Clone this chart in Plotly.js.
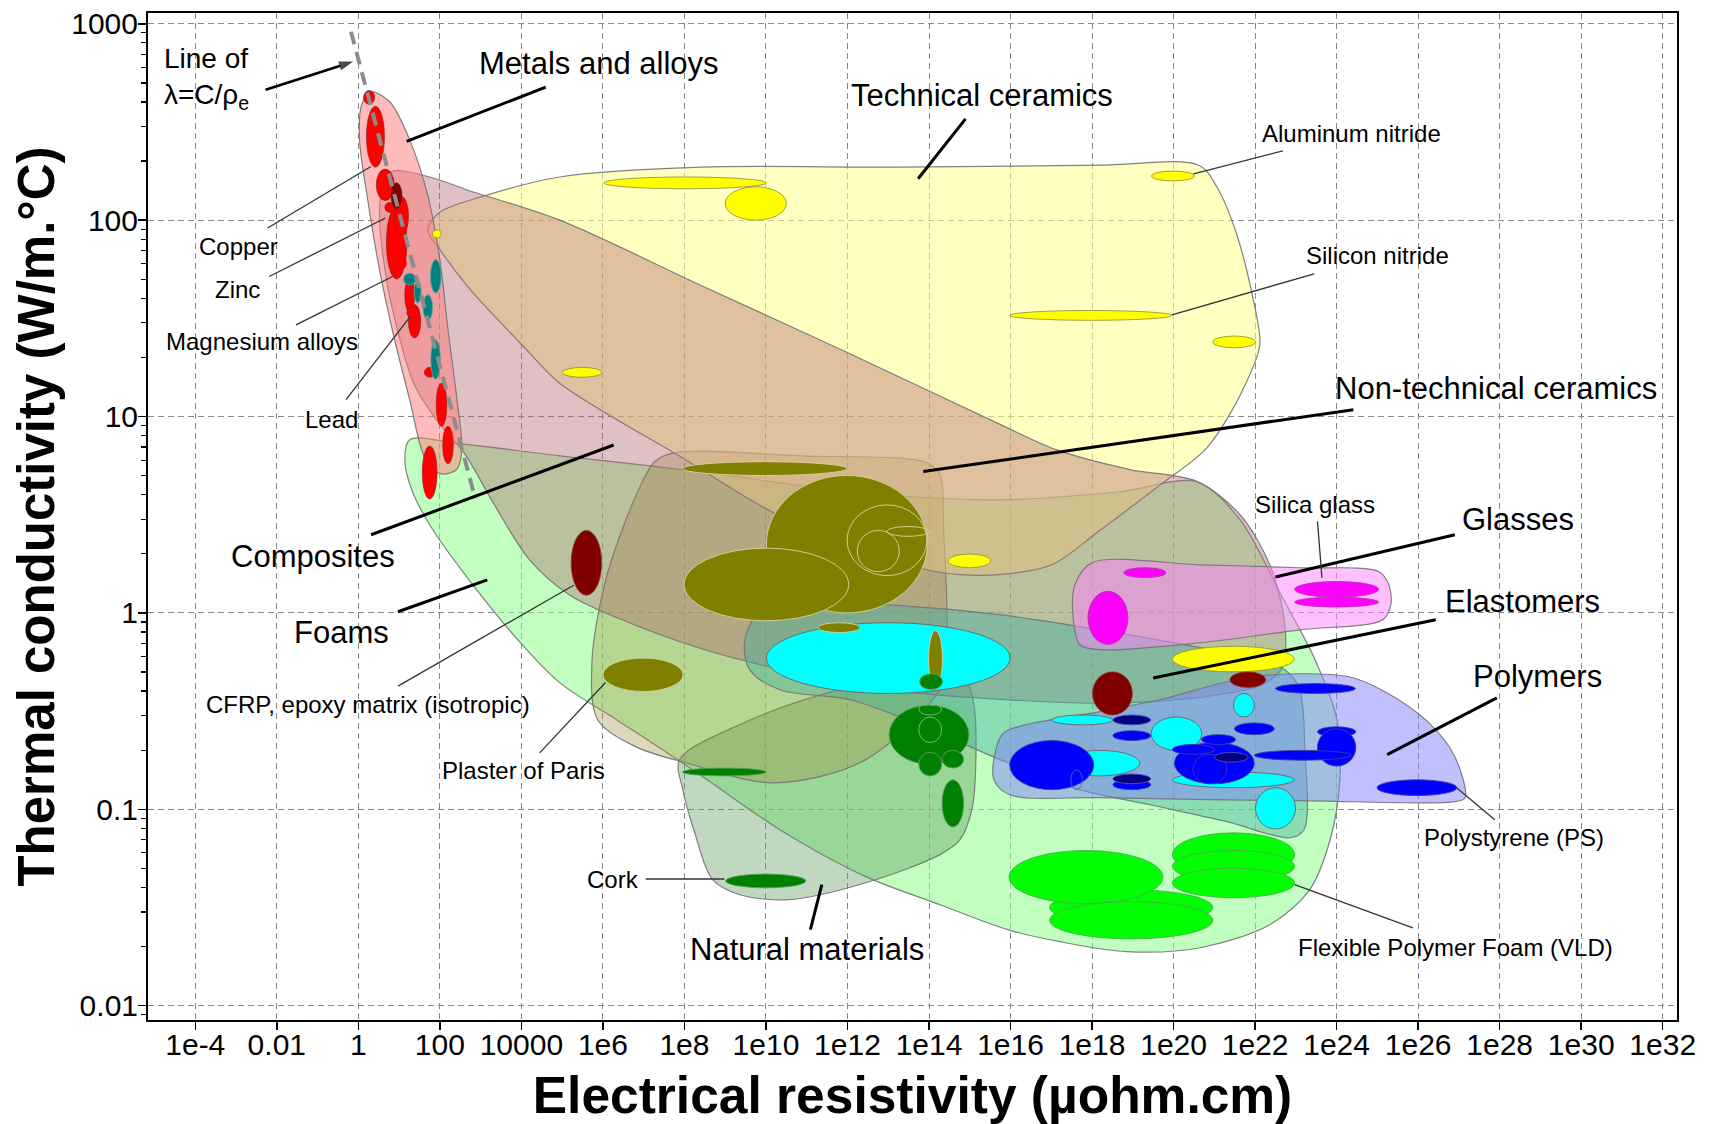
<!DOCTYPE html>
<html><head><meta charset="utf-8">
<script src="https://cdn.plot.ly/plotly-3.0.1.min.js"></script>
<style>html,body{margin:0;padding:0;background:#fff}#chart{width:1711px;height:1124px}</style>
</head><body><div id="chart"></div>
<script>
// ---------- Axis ticks ----------
const xTickVals = [1e-4,1e-2,1,1e2,1e4,1e6,1e8,1e10,1e12,1e14,1e16,1e18,1e20,1e22,1e24,1e26,1e28,1e30,1e32];
const xTickText = ['1e-4','0.01','1','100','10000','1e6','1e8','1e10','1e12','1e14','1e16','1e18','1e20','1e22','1e24','1e26','1e28','1e30','1e32'];
const yTickVals = [0.01,0.1,1,10,100,1000];
const yTickText = ['0.01','0.1','1','10','100','1000'];

// ---------- Family envelopes (log10 resistivity µohm.cm, log10 conductivity W/m.°C) ----------
const foamsLogRho = [1.26,2.49,4.94,8.38,12.06,15.74,18.68,20.57,21.63,22.66,23.47,24.01,24.08,23.84,23.34,22.36,20.65,18.85,17.21,15.93,14.27,12.45,10.34,8.38,6.41,4.94,3.91,2.58,1.75,1.31,1.14];
const foamsLogK   = [0.882,0.862,0.800,0.719,0.617,0.576,0.617,0.668,0.475,0.082,-0.238,-0.544,-0.849,-1.155,-1.409,-1.588,-1.705,-1.725,-1.674,-1.613,-1.486,-1.343,-1.104,-0.824,-0.554,-0.355,-0.136,0.205,0.449,0.627,0.780];
const naturalLogRho = [7.88,9.46,11.52,13.21,14.34,14.90,15.10,15.15,15.05,14.76,14.27,12.45,10.58,9.36,8.69,8.23,7.96];
const naturalLogK   = [-0.747,-0.559,-0.406,-0.33,-0.316,-0.34,-0.467,-0.747,-1.002,-1.155,-1.231,-1.374,-1.460,-1.435,-1.358,-1.104,-0.900];
const ntcLogRho = [7.76,10.83,13.95,14.27,14.36,14.44,14.39,12.45,10.19,8.03,6.80,5.87,5.73,6.07,6.80,7.27];
const ntcLogK   = [0.816,0.800,0.765,0.704,0.424,-0.019,-0.340,-0.747,-0.865,-0.763,-0.681,-0.544,-0.254,0.169,0.592,0.770];
const ceramicsLogRho = [1.70,2.00,3.03,4.94,8.38,13.28,18.19,20.62,21.06,21.53,21.92,22.12,22.02,21.43,20.77,19.66,18.19,17.01,15.74,14.76,13.95,12.06,10.19,8.03,4.94,4.13,2.73,2.00];
const ceramicsLogK   = [1.95,2.04,2.12,2.22,2.27,2.27,2.28,2.28,2.17,1.94,1.63,1.38,1.29,1.03,0.83,0.65,0.42,0.245,0.195,0.195,0.22,0.35,0.51,0.78,1.17,1.34,1.65,1.85];
const compLogRho = [0.84,1.75,2.73,4.94,8.38,12.06,15.74,17.14,18.93,20.57,21.63,22.36,22.73,22.66,22.12,20.65,18.19,15.74,13.28,10.83,8.38,6.41,5.19,4.20,3.34,2.61,2.00,1.38,0.96,0.65,0.52,0.62];
const compLogK   = [2.25,2.22,2.15,2.00,1.67,1.32,0.96,0.83,0.73,0.67,0.50,0.245,-0.06,-0.28,-0.37,-0.43,-0.46,-0.44,-0.40,-0.31,-0.18,-0.03,0.09,0.27,0.55,0.81,0.96,1.16,1.44,1.75,2.05,2.19];
const metalsLogRho = [0.30,0.77,1.26,1.70,2.00,2.20,2.42,2.54,2.41,2.00,1.63,1.26,0.89,0.52,0.23,0.03,0.08];
const metalsLogK   = [2.654,2.603,2.409,2.129,1.798,1.442,1.086,0.831,0.729,0.709,0.790,1.086,1.391,1.747,2.104,2.409,2.588];
const elastLogRho = [9.48,9.85,10.83,13.28,15.74,18.19,20.65,22.53,23.05,23.22,23.20,22.85,21.31,19.42,17.70,15.74,13.77,12.06,10.34,9.60];
const elastLogK   = [-0.136,0.006,0.052,0.037,-0.009,-0.086,-0.177,-0.264,-0.366,-0.697,-1.104,-1.145,-1.063,-0.977,-0.900,-0.747,-0.569,-0.442,-0.391,-0.289];
const polyLogRho = [15.84,18.19,19.66,21.92,24.30,25.23,26.26,26.90,27.15,26.90,23.10,18.19,15.98,15.59,15.64];
const polyLogK   = [-0.610,-0.503,-0.442,-0.325,-0.325,-0.406,-0.559,-0.732,-0.941,-0.961,-0.956,-0.941,-0.926,-0.849,-0.697];
const glassLogRho = [18.00,20.65,23.10,25.04,25.28,25.33,25.13,23.10,20.65,18.19,17.70,17.53,17.58];
const glassLogK   = [0.256,0.245,0.230,0.210,0.144,0.042,-0.035,-0.086,-0.152,-0.187,-0.162,-0.009,0.144];

// ---------- Material bubbles: [logRhoMin, logRhoMax, logKMin, logKMax] ----------
const ceramicBubbles = [[6.02,10.01,2.16,2.22],[9.00,10.50,2.00,2.17],[5.00,5.98,1.20,1.25],[15.98,19.96,1.49,1.54],[19.46,20.51,2.20,2.25],[20.96,22.01,1.35,1.41],[14.47,15.51,0.23,0.30],[19.97,22.96,-0.30,-0.17],[1.82,2.03,1.91,1.95]];
const elastomerBubbles = [[10.01,15.99,-0.41,-0.05],[17.01,18.51,-0.57,-0.52],[17.21,19.17,-0.83,-0.70],[21.47,21.98,-0.53,-0.41],[19.45,20.69,-0.70,-0.53],[19.97,22.96,-0.89,-0.81],[22.01,22.99,-1.10,-0.89]];
const ntcBubbles = [[7.95,11.99,0.70,0.77],[10.01,13.96,0.00,0.70],[7.99,12.03,-0.04,0.33],[11.28,12.31,-0.10,-0.05],[6.00,7.97,-0.40,-0.23],[13.99,14.33,-0.38,-0.09]];
const ntcOutlines = [[11.99,13.95,0.19,0.55],[12.24,13.27,0.21,0.42],[12.97,14.00,0.39,0.44]];
const naturalBubbles = [[13.77,14.33,-0.39,-0.31],[13.02,14.98,-0.77,-0.47],[13.75,14.31,-0.83,-0.71],[14.32,14.85,-0.79,-0.70],[14.32,14.85,-1.09,-0.85],[7.95,10.01,-0.83,-0.79],[9.01,10.98,-1.40,-1.33]];
const naturalOutlines = [[13.75,14.31,-0.52,-0.46],[13.75,14.31,-0.66,-0.53]];
const metalRedBubbles = [[0.13,0.40,2.59,2.66],[0.20,0.64,2.27,2.58],[0.44,0.88,2.10,2.26],[0.69,1.19,1.70,2.07],[0.89,1.23,1.92,2.12],[0.65,0.89,2.04,2.09],[0.88,1.18,1.75,1.81],[1.14,1.38,1.53,1.71],[1.23,1.53,1.40,1.57],[1.19,1.48,1.50,1.56],[1.62,1.88,1.20,1.25],[1.91,2.17,0.95,1.17],[2.07,2.33,0.76,0.95],[1.57,1.93,0.58,0.85]];
const metalDarkBubbles = [[0.80,1.07,2.06,2.19]];
const metalTealBubbles = [[1.11,1.41,1.67,1.73],[1.77,2.03,1.63,1.80],[1.59,1.82,1.49,1.62],[1.37,1.54,1.58,1.69],[1.78,2.01,1.19,1.39]];
const compositeBubbles = [[5.22,5.97,0.09,0.42],[18.01,18.99,-0.52,-0.30],[21.38,22.26,-0.38,-0.30]];
const polymerBubbles = [[15.98,18.04,-0.90,-0.65],[20.02,21.98,-0.87,-0.66],[18.51,19.44,-0.65,-0.60],[18.51,19.44,-0.90,-0.85],[22.50,24.46,-0.41,-0.36],[21.49,22.47,-0.62,-0.56],[20.68,21.52,-0.67,-0.62],[19.97,21.00,-0.72,-0.67],[20.47,21.31,-0.87,-0.72],[23.53,24.47,-0.63,-0.58],[23.53,24.47,-0.78,-0.59],[21.98,24.36,-0.75,-0.70],[24.99,26.95,-0.93,-0.85]];
const polymerOutlines = [[17.48,17.76,-0.90,-0.80]];
const polymerNavyBubbles = [[18.51,19.44,-0.57,-0.52],[18.51,19.44,-0.87,-0.82],[21.00,21.83,-0.76,-0.71]];
const glassBubbles = [[18.78,19.81,0.18,0.23],[17.90,18.88,-0.16,0.11],[22.97,25.03,0.08,0.16],[22.97,25.03,0.03,0.08]];
const foamBubbles = [[16.96,20.96,-1.59,-1.41],[16.96,20.96,-1.66,-1.47],[15.96,19.74,-1.48,-1.21],[19.97,22.97,-1.34,-1.12],[19.97,22.97,-1.37,-1.21],[19.97,22.97,-1.45,-1.30]];

// ---------- Wiedemann-Franz guide line (λ = C/ρe) ----------
const wfLogRho = [-0.18, 2.87];
const wfLogK = [2.96, 0.58];
const wfArrowLogRho = [-2.275, -0.125]; // tail -> head
const wfArrowLogK = [2.664, 2.808];

// ---------- Labels ----------
const labelText = ['Metals and alloys','Technical ceramics','Non-technical ceramics','Composites','Foams','Glasses','Elastomers','Polymers','Natural materials',
  'Aluminum nitride','Silicon nitride','Copper','Zinc','Magnesium alloys','Lead','CFRP, epoxy matrix (isotropic)','Plaster of Paris','Silica glass','Polystyrene (PS)','Flexible Polymer Foam (VLD)','Cork'];
const labelLogRho = [5.897,15.296,27.90,-1.107,-0.410,28.45,28.55,28.92,10.996, 24.36,25.00,-2.930,-2.962,-2.361,-0.655,0.228,4.052,23.48,28.34,26.92,6.255];
const labelLogK   = [2.800,2.633,1.145,0.288,-0.102,0.475,0.059,-0.323,-1.715, 2.443,1.819,1.866,1.646,1.382,0.984,-0.467,-0.800,0.551,-1.146,-1.706,-1.358];
const labelSize   = [31,31,31,31,31,31,31,31,31, 24,24,24,24,24,24,24,24,24,24,24,24];
// leader lines: [logRhoFrom, logKFrom, logRhoTo, logKTo]
const leaderThick = [[4.596,2.678,1.185,2.401],[14.896,2.516,13.733,2.211],[24.41,1.035,13.86,0.720],[0.312,0.398,6.265,0.855],[0.972,0.006,3.163,0.168],[26.90,0.398,22.50,0.183],[26.43,-0.035,19.50,-0.331],[27.93,-0.433,25.24,-0.722],[11.09,-1.613,11.37,-1.384]];
const leaderThin = [[22.68,2.353,20.49,2.236],[23.45,1.727,19.96,1.518],[-2.226,1.960,0.312,2.273],[-2.187,1.713,0.663,2.011],[-1.529,1.467,0.839,1.713],[-0.302,1.086,1.276,1.510],[0.972,-0.373,5.283,0.141],[4.449,-0.713,6.064,-0.354],[23.53,0.466,23.64,0.178],[27.88,-1.053,26.95,-0.892],[25.87,-1.604,22.97,-1.384],[7.050,-1.355,8.979,-1.355]];
const wfLabelPos = [-4.815, 2.72];

// ---------- Build ----------
const P = v => Math.pow(10, v);
const FONT = '"Liberation Sans", Arial, Helvetica, sans-serif';

function envelope(lr, lk, fill) {
  return {type:'scatter', mode:'lines', x: lr.concat([lr[0]]).map(P), y: lk.concat([lk[0]]).map(P),
    fill:'toself', fillcolor: fill, line:{color:'rgba(115,115,115,0.9)', width:1.2, shape:'spline', smoothing:0.9},
    hoverinfo:'skip', showlegend:false};
}
const data = [
  envelope(foamsLogRho, foamsLogK, 'rgba(140,255,140,0.55)'),
  envelope(naturalLogRho, naturalLogK, 'rgba(90,150,90,0.38)'),
  envelope(ntcLogRho, ntcLogK, 'rgba(160,140,60,0.35)'),
  envelope(ceramicsLogRho, ceramicsLogK, 'rgba(255,255,140,0.55)'),
  envelope(compLogRho, compLogK, 'rgba(175,100,110,0.40)'),
  envelope(metalsLogRho, metalsLogK, 'rgba(255,120,120,0.50)'),
  envelope(elastLogRho, elastLogK, 'rgba(60,175,160,0.42)'),
  envelope(polyLogRho, polyLogK, 'rgba(130,130,255,0.50)'),
  envelope(glassLogRho, glassLogK, 'rgba(255,130,255,0.50)'),
  {type:'scatter', mode:'lines+markers', x: wfArrowLogRho.map(P), y: wfArrowLogK.map(P),
   line:{color:'#000', width:2.6}, marker:{symbol:'arrow', angleref:'previous', size:[0,15], color:'#000', line:{width:0}},
   hoverinfo:'skip', showlegend:false, cliponaxis:false}
];

const shapes = [];
function addEll(list, fill, lc, lw) {
  list.forEach(b => shapes.push({type:'circle', xref:'x', yref:'y', layer:'above',
    x0:P(b[0]), x1:P(b[1]), y0:P(b[2]), y1:P(b[3]), fillcolor: fill, line:{color: lc, width: lw}}));
}
addEll(ceramicBubbles, '#ffff00', 'rgba(140,140,60,0.8)', 1);
addEll(elastomerBubbles, '#00ffff', 'rgba(120,80,80,0.8)', 1);
addEll(ntcBubbles, '#808000', 'rgba(215,210,160,0.9)', 1);
addEll(ntcOutlines, 'rgba(0,0,0,0)', 'rgba(215,210,160,0.9)', 1);
addEll(naturalBubbles, '#008000', 'rgba(90,160,90,0.9)', 1);
addEll(naturalOutlines, 'rgba(0,0,0,0)', 'rgba(120,190,120,0.9)', 1);
addEll(metalRedBubbles, '#ff0000', 'rgba(150,30,30,0.7)', 1);
addEll(metalDarkBubbles, '#800000', 'rgba(120,30,30,0.7)', 1);
addEll(metalTealBubbles, '#008080', 'rgba(90,160,160,0.9)', 1);
addEll(compositeBubbles, '#800000', 'rgba(150,60,60,0.8)', 1);
addEll(polymerBubbles, '#0000ff', 'rgba(60,60,160,0.9)', 1);
addEll(polymerOutlines, 'rgba(0,0,0,0)', 'rgba(90,90,200,0.9)', 1);
addEll(polymerNavyBubbles, '#000080', 'rgba(80,80,200,0.9)', 1);
addEll(glassBubbles, '#ff00ff', 'rgba(170,60,170,0.9)', 1);
addEll(foamBubbles, '#00ff00', 'rgba(80,170,80,0.9)', 1);

shapes.push({type:'line', xref:'x', yref:'y', layer:'above', x0:P(wfLogRho[0]), y0:P(wfLogK[0]), x1:P(wfLogRho[1]), y1:P(wfLogK[1]),
  line:{color:'#8c8c8c', width:4, dash:'13px,8px'}});
leaderThick.forEach(l => shapes.push({type:'line', xref:'x', yref:'y', layer:'above', x0:P(l[0]), y0:P(l[1]), x1:P(l[2]), y1:P(l[3]), line:{color:'#000', width:3}}));
leaderThin.forEach(l => shapes.push({type:'line', xref:'x', yref:'y', layer:'above', x0:P(l[0]), y0:P(l[1]), x1:P(l[2]), y1:P(l[3]), line:{color:'#333', width:1.3}}));

const annotations = labelText.map((t,i) => ({x: labelLogRho[i], y: labelLogK[i], xref:'x', yref:'y', text: t, showarrow:false,
  font:{family: FONT, size: labelSize[i], color:'#000'}}));
annotations.push({x: wfLabelPos[0], y: wfLabelPos[1], xref:'x', yref:'y', xanchor:'left', align:'left', showarrow:false,
  text:'Line of<br>λ=C/ρ<sub>e</sub>', font:{family: FONT, size:28, color:'#000'}});

const axisCommon = {type:'log', showline:true, linecolor:'#000', linewidth:2, mirror:true, ticks:'outside', ticklen:8, tickwidth:1.5, tickcolor:'#000',
  showgrid:true, gridcolor:'#8a8a8a', gridwidth:1, griddash:'6px,4px', zeroline:false, tickfont:{family: FONT, size:30, color:'#000'}};

const layout = {
  width:1711, height:1124, autosize:false,
  margin:{l:148, r:34, t:13, b:104},
  paper_bgcolor:'#fff', plot_bgcolor:'#fff', showlegend:false, hovermode:false,
  font:{family: FONT, color:'#000'},
  xaxis: Object.assign({}, axisCommon, {range:[-5.16,32.35], tickmode:'array', tickvals:xTickVals, ticktext:xTickText, tickangle:0,
    ticklabelstandoff:-11,
    title:{text:'Electrical resistivity (µohm.cm)', font:{family: FONT, size:51.5, weight:'bold', color:'#000'}, standoff:17}}),
  yaxis: Object.assign({}, axisCommon, {range:[-2.073,3.055], tickmode:'array', tickvals:yTickVals, ticktext:yTickText,
    ticklabelstandoff:-6,
    minor:{ticks:'outside', ticklen:5, tickwidth:1.2, tickcolor:'#000', dtick:'D1', showgrid:false},
    title:{text:'Thermal conductivity (W/m.°C)', font:{family: FONT, size:51, weight:'bold', color:'#000'}, standoff:0}}),
  shapes: shapes,
  annotations: annotations
};

Plotly.newPlot('chart', data, layout, {staticPlot:true, displayModeBar:false});
</script></body></html>
